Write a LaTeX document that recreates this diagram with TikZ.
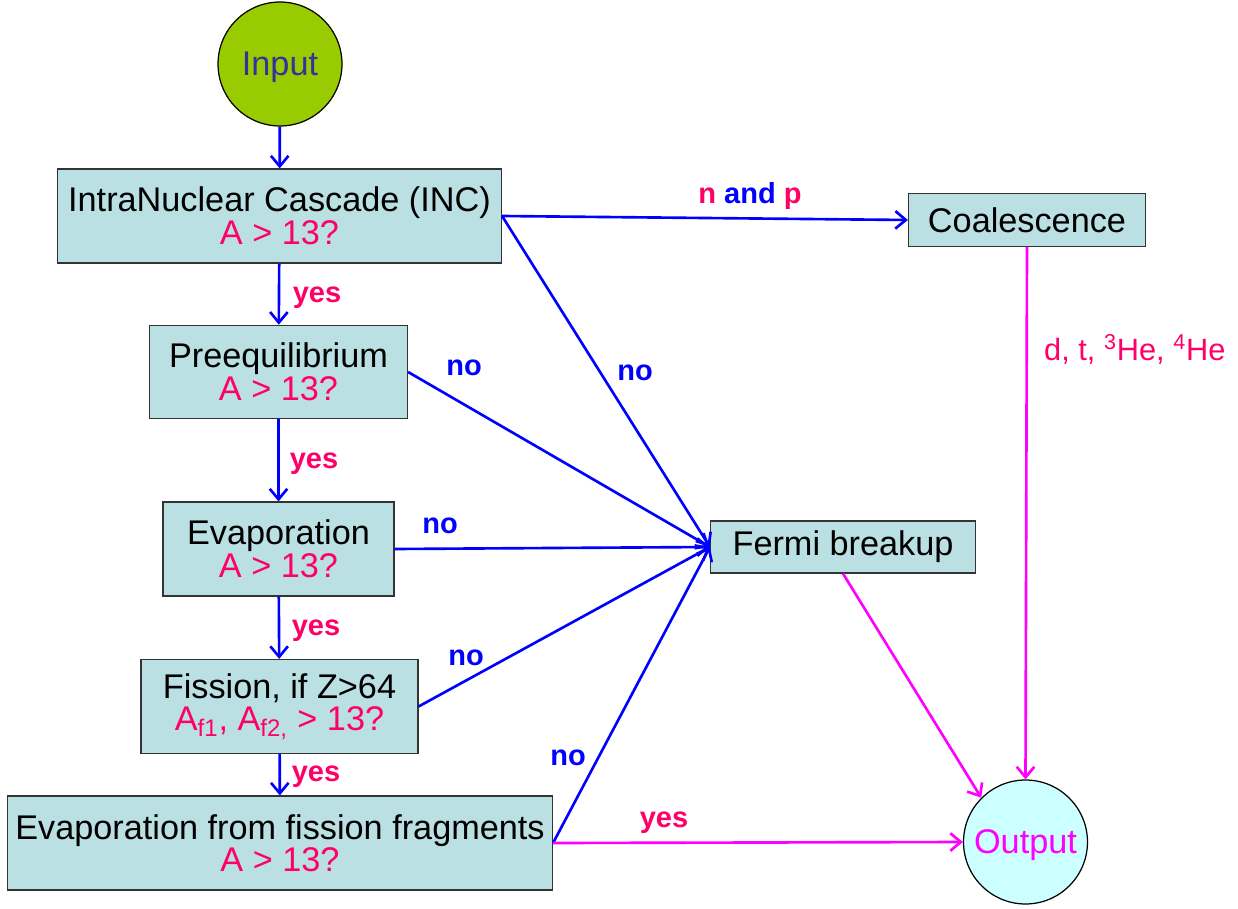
\documentclass[tikz,border=0pt]{standalone}
\usepackage{fontspec}
\setmainfont{Liberation Sans}
\usetikzlibrary{arrows.meta}
\definecolor{boxfill}{HTML}{BBE0E3}
\definecolor{boxline}{HTML}{333333}
\definecolor{infill}{HTML}{99CC00}
\definecolor{intext}{HTML}{333399}
\definecolor{outfill}{HTML}{CCFFFF}
\definecolor{qpink}{HTML}{FF0066}
\definecolor{flowblue}{HTML}{0000FF}
\definecolor{flowmag}{HTML}{FF00FF}
\begin{document}
\begin{tikzpicture}[x=0.02cm,y=-0.02cm,
    box/.style={draw=boxline, line width=0.7pt, fill=boxfill, align=center,
      inner sep=0pt, font=\fontsize{19.5}{18.5}\selectfont},
    ball/.style={circle, draw=black, line width=0.7pt, minimum size=2.48cm,
      inner sep=0pt, text depth=0pt, font=\fontsize{19.5}{22}\selectfont},
    flow/.style={draw=flowblue, line width=1.5pt,
      -{Straight Barb[length=6pt,width=10pt]}},
    outflow/.style={flow, draw=flowmag},
    lab/.style={font=\bfseries\fontsize{16.5}{18}\selectfont}
  ]
  \useasboundingbox (0,0) rectangle (1238,909);
  % Stages
  \node[ball, fill=infill, text=intext] (inp) at (280,64) {Input};
  \node[box, minimum width=8.88cm, minimum height=1.88cm] (inc) at (279.5,216)
    {IntraNuclear Cascade (INC)\\ \color{qpink}A > 13?};
  \node[box, minimum width=5.16cm, minimum height=1.87cm] (pre) at (278.5,372)
    {Preequilibrium\\ \color{qpink}A > 13?};
  \node[box, minimum width=4.62cm, minimum height=1.88cm] (eva) at (278.5,549)
    {Evaporation\\ \color{qpink}A > 13?};
  \node[box, minimum width=5.54cm, minimum height=1.88cm] (fis) at (279.5,706.5)
    {Fission, if Z>64\\ \color{qpink}A\textsubscript{f1}, A\textsubscript{f2,} > 13?};
  \node[box, minimum width=10.9cm, minimum height=1.88cm] (eff) at (280,843)
    {Evaporation from fission fragments\\ \color{qpink}A > 13?};
  \node[box, minimum width=4.74cm, minimum height=1.05cm] (coal) at (1027,220)
    {Coalescence};
  \node[box, minimum width=5.3cm, minimum height=1.04cm] (fermi) at (843,547)
    {Fermi breakup};
  \node[ball, fill=outfill, text=flowmag] (out) at (1025.5,842) {Output};
  % Main chain
  \draw[flow] (inp) -- (inc);
  \draw[flow] (inc) -- (pre);
  \draw[flow] (pre) -- (eva);
  \draw[flow] (eva) -- (fis);
  \draw[flow] (fis) -- (eff);
  % Branches
  \draw[flow] (inc.east) -- (coal.west);
  \draw[flow] (inc.east) -- (fermi.west);
  \draw[flow] (pre.east) -- (fermi.west);
  \draw[flow] (eva.east) -- (fermi.west);
  \draw[flow] (fis.east) -- (fermi.west);
  \draw[flow] (eff.east) -- (fermi.west);
  \draw[outflow] (eff.east) -- (out.west);
  \draw[outflow] (fermi.south) -- (out.135);
  \draw[outflow] (coal.south) -- (out.north);
  % Labels
  \node[lab, text=qpink] (y1) at (317,298) {yes};
  \node[lab, text=qpink] (y2) at (314,464) {yes};
  \node[lab, text=qpink] (y3) at (316,631) {yes};
  \node[lab, text=qpink] (y4) at (316,777) {yes};
  \node[lab, text=qpink] (y5) at (664,823) {yes};
  \node[lab, text=flowblue] (n1) at (635,373) {no};
  \node[lab, text=flowblue] (n2) at (464,368) {no};
  \node[lab, text=flowblue] (n3) at (440,526) {no};
  \node[lab, text=flowblue] (n4) at (466,658) {no};
  \node[lab, text=flowblue] (n5) at (568,758) {no};
  \node[lab] (np) at (750,196)
    {\color{qpink}n \color{flowblue}and \color{qpink}p};
  \node[anchor=west, text=qpink, font=\fontsize{17.5}{20}\selectfont] (frag)
    at (1038,349) {d, t, \textsuperscript{3}He, \textsuperscript{4}He};
\end{tikzpicture}
\end{document}
